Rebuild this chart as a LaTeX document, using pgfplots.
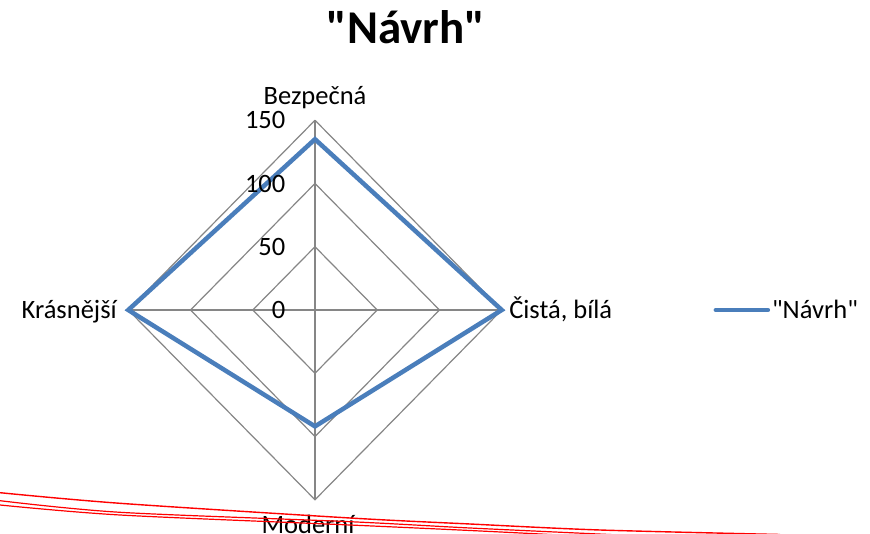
\documentclass[border=0pt]{standalone}
\usepackage{pgfplots}
\pgfplotsset{compat=1.18}
\usepackage{fontspec}
\setmainfont{Carlito}
\definecolor{serblue}{RGB}{74,126,187}
\definecolor{gridgray}{RGB}{134,134,134}
\newcommand{\q}{\XeTeXglyph\XeTeXcharglyph"0022\relax}
\begin{document}
\begin{tikzpicture}[x=1pt,y=1pt]
\path[use as bounding box] (0,0) rectangle (870,-534);
\node[anchor=base, font=\fontsize{47}{52}\selectfont\bfseries] at (406,-44) {\q Návrh\q};
\begin{axis}[
  at={(315pt,-310pt)}, anchor=origin,
  x=1.245pt, y=1.265pt,
  xmin=-150, xmax=150, ymin=-150, ymax=150,
  hide axis, clip=false,
  legend style={at={(axis cs:320,0)}, anchor=west, draw=none, fill=none,
    font=\fontsize{26.5}{30}\selectfont, inner xsep=0pt, inner ysep=0pt},
  legend cell align=left,
  legend image code/.code={\draw[#1, line width=4.5pt, line cap=round] (0pt,0pt) -- (52pt,0pt);},
]
\addplot[gridgray, line width=1.2pt, forget plot] coordinates {(0,50) (50,0) (0,-50) (-50,0) (0,50)};
\addplot[gridgray, line width=1.2pt, forget plot] coordinates {(0,100) (100,0) (0,-100) (-100,0) (0,100)};
\addplot[gridgray, line width=1.2pt, forget plot] coordinates {(0,150) (150,0) (0,-150) (-150,0) (0,150)};
\addplot[gridgray, line width=1.4pt, forget plot] coordinates {(0,-150) (0,150)};
\addplot[gridgray, line width=1.2pt, forget plot] coordinates {(-150,0) (150,0)};
\addplot[serblue, line width=4.5pt, line join=miter] coordinates {(0,135) (150,0) (0,-92) (-150,0)} -- cycle;
\addlegendentry{\q Návrh\q}
\node[anchor=east, font=\fontsize{26.5}{30}\selectfont] at (axis cs:-21,150) {150};
\node[anchor=east, font=\fontsize{26.5}{30}\selectfont] at (axis cs:-21,100) {100};
\node[anchor=east, font=\fontsize{26.5}{30}\selectfont] at (axis cs:-21,50) {50};
\node[anchor=east, font=\fontsize{26.5}{30}\selectfont] at (axis cs:-21,0) {0};
\node[anchor=base, font=\fontsize{26.5}{30}\selectfont] at (axis cs:0,150) [yshift=16pt] {Bezpečná};
\node[anchor=base west, font=\fontsize{26.5}{30}\selectfont] at (axis cs:150,0) [xshift=4pt, yshift=-8.5pt] {Čistá, bílá};
\node[anchor=base, font=\fontsize{26.5}{30}\selectfont] at (axis cs:0,-150) [xshift=-7pt, yshift=-34pt] {Moderní};
\node[anchor=base east, font=\fontsize{26.5}{30}\selectfont] at (axis cs:-150,0) [xshift=-8pt, yshift=-8.5pt] {Krásnější};
\end{axis}
\draw[red, line width=1.4pt] plot[smooth] coordinates {(0,-492.7) (120,-503.3) (350,-518) (470,-524) (600,-530) (780,-534.5)};
\draw[red, line width=1.2pt] plot[smooth] coordinates {(0,-500.7) (120,-512.3) (350,-521.7) (470,-528) (620,-535)};
\draw[red, line width=1.2pt] plot[smooth] coordinates {(0,-505) (120,-515) (350,-525) (470,-530.5) (560,-535)};
\end{tikzpicture}
\end{document}
